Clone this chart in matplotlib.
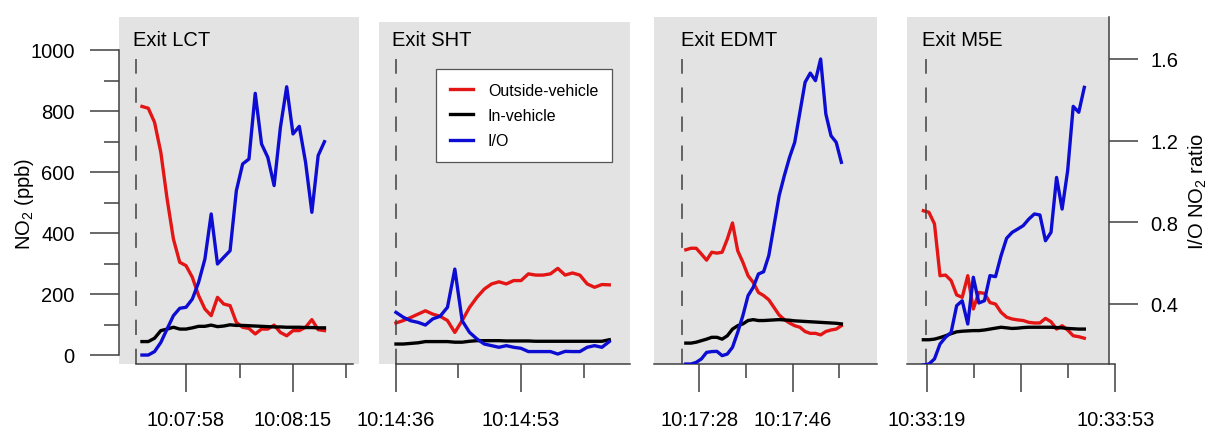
import numpy as np
import matplotlib
matplotlib.use("Agg")
import matplotlib.pyplot as plt
from matplotlib.lines import Line2D

plt.rcParams.update({
    "font.family": ["Liberation Sans", "DejaVu Sans"],
    "mathtext.fontset": "custom",
    "mathtext.rm": "Liberation Sans",
    "mathtext.it": "Liberation Sans:italic",
    "mathtext.bf": "Liberation Sans:bold",
})

# ==============================
# data (1 Hz samples, seconds relative to first labelled tick)
# ==============================

exit_names = ["Exit LCT", "Exit SHT", "Exit EDMT", "Exit M5E"]
t_start = [-7, 0, -2.6, -0.6]       # time of first sample
t_exit = [-8, 0, -3.3, -0.2]        # dashed line (vehicle exit)

lct_out = [815, 809, 763, 664, 511, 380, 304, 293, 255, 195, 151, 129, 189, 167, 162,
           107, 91, 87, 69, 85, 85, 98, 74, 63, 80, 80, 91, 116, 83, 80]
lct_in = [44, 44, 55, 80, 85, 91, 85, 85, 89, 94, 94, 98, 93, 95, 99,
          97, 97, 96, 95, 94, 93, 92, 92, 91, 91, 91, 90, 90, 89, 89]
lct_io = [0.150, 0.150, 0.167, 0.212, 0.278, 0.343, 0.379, 0.384, 0.424, 0.506,
          0.620, 0.841, 0.596, 0.629, 0.661, 0.955, 1.086, 1.110, 1.432, 1.184,
          1.118, 0.980, 1.265, 1.464, 1.233, 1.270, 1.094, 0.849, 1.127, 1.195]

sht_out = [105, 113, 123, 134, 145, 134, 127, 113, 74, 113, 156, 189, 216, 233, 240,
           233, 244, 244, 266, 262, 262, 266, 284, 262, 269, 262, 233, 222, 231, 230]
sht_in = [36, 36, 38, 40, 44, 44, 44, 44, 42, 42, 45, 47, 47, 47, 47,
          46, 46, 46, 46, 45, 45, 45, 45, 45, 45, 45, 45, 45, 45, 50]
sht_io = [0.359, 0.335, 0.318, 0.310, 0.297, 0.327, 0.340, 0.384, 0.571, 0.318,
          0.261, 0.229, 0.204, 0.196, 0.188, 0.196, 0.188, 0.183, 0.167, 0.167,
          0.167, 0.167, 0.155, 0.168, 0.167, 0.167, 0.188, 0.196, 0.188, 0.216]

edmt_out = [345, 350, 350, 331, 311, 337, 334, 337, 380, 433, 342, 304, 260, 238, 205,
            195, 181, 156, 131, 116, 105, 96, 91, 77, 71, 71, 66, 77, 82, 85, 96]
edmt_in = [39, 39, 42, 47, 52, 58, 58, 52, 63, 85, 96, 102, 113, 116, 113,
           113, 114, 115, 116, 115, 114, 112, 111, 110, 109, 108, 107, 106, 105, 104, 102]
edmt_io = [0.106, 0.106, 0.114, 0.131, 0.163, 0.167, 0.168, 0.147, 0.155, 0.188,
           0.261, 0.343, 0.441, 0.482, 0.547, 0.558, 0.637, 0.784, 0.931, 1.029,
           1.118, 1.192, 1.339, 1.486, 1.531, 1.494, 1.600, 1.331, 1.224, 1.192, 1.094]

m5e_out = [473, 468, 430, 260, 262, 244, 197, 189, 260, 151, 205, 202, 172, 167, 140,
           124, 118, 115, 113, 107, 105, 105, 120, 109, 85, 96, 82, 63, 60, 55]
m5e_in = [50, 50, 52, 57, 63, 70, 76, 78, 79, 80, 80, 82, 85, 88, 91,
          89, 87, 88, 90, 91, 91, 91, 91, 91, 90, 89, 87, 86, 85, 85]
m5e_io = [0.101, 0.106, 0.131, 0.204, 0.237, 0.261, 0.392, 0.416, 0.302, 0.531,
          0.405, 0.416, 0.539, 0.534, 0.637, 0.722, 0.751, 0.767, 0.784, 0.816,
          0.841, 0.836, 0.710, 0.751, 1.020, 0.865, 1.053, 1.368, 1.339, 1.461]

outside = [lct_out, sht_out, edmt_out, m5e_out]
inside = [lct_in, sht_in, edmt_in, m5e_in]
ratio = [lct_io, sht_io, edmt_io, m5e_io]

major_ticks = [[0, 17], [0, 17], [0, 18], [0, 17, 34]]
major_labels = [["10:07:58", "10:08:15"], ["10:14:36", "10:14:53"],
                ["10:17:28", "10:17:46"], ["10:33:19", "", "10:33:53"]]
minor_ticks = [[8.5, 25.5], [8.5, 25.5], [9, 27], [8.5, 25.5]]

# ==============================
# layout (pixels of a 1211x431 canvas)
# ==============================

W, H = 1211, 431
panel_left = [119, 379, 654, 907]
panel_width = [240, 251, 223, 209.5]
panel_top = [18, 23, 18, 18]
bottom_px = 365
xlims = [(-10.65, 27.49), (-2.31, 31.82), (-8.74, 34.27), (-3.55, 34.2)]
axis_bounds = [(-8, 26.5), (0, 31.82), (-8.74, 34.27), (-3.55, 34)]
title_x = [-8.47, -0.54, -3.53, -0.85]
grey_end_p4 = 32.85

# shared vertical scales: NO2 0 -> y=356 px, 1000 -> y=51 px ; ratio 0.4 -> 305 px, 1.6 -> 60 px
def no2_at(px):
    return (356 - px) / 0.305

def ratio_at(px):
    return 0.4 + (305 - px) / 204.17

C_OUT = "#e31515"
C_IN = "#000000"
C_IO = "#0c0cd2"
C_BG = "#e3e3e3"
C_AX = "#404040"
LW = 2.4
FS = 14.5

fig = plt.figure(figsize=(W / 100, H / 100), dpi=100)

for i in range(4):
    ax = fig.add_axes([panel_left[i] / W, (H - bottom_px) / H,
                       panel_width[i] / W, (bottom_px - panel_top[i]) / H])
    ax2 = ax.twinx()
    t = t_start[i] + np.arange(len(outside[i]))

    ax.plot(t, outside[i], color=C_OUT, lw=LW, solid_joinstyle="round")
    ax.plot(t, inside[i], color=C_IN, lw=LW, solid_joinstyle="round")
    ax2.plot(t, ratio[i], color=C_IO, lw=LW, solid_joinstyle="round")

    ax.plot([t_exit[i], t_exit[i]], [no2_at(bottom_px), no2_at(60)], color=C_AX,
            lw=1.1, dashes=(10, 9))

    ax.set_xlim(*xlims[i])
    ax.set_ylim(no2_at(bottom_px), no2_at(panel_top[i]))
    ax2.set_ylim(ratio_at(bottom_px), ratio_at(panel_top[i]))

    if i == 3:
        ax.set_facecolor("none")
        ax.axvspan(xlims[i][0], grey_end_p4, color=C_BG, zorder=0, lw=0)
    else:
        ax.set_facecolor(C_BG)

    for sp in ["top", "right", "left"]:
        ax.spines[sp].set_visible(False)
    for sp in ["top", "left", "bottom", "right"]:
        ax2.spines[sp].set_visible(False)
    ax.spines["bottom"].set_bounds(*axis_bounds[i])
    ax.spines["bottom"].set_color(C_AX)
    ax.spines["bottom"].set_linewidth(1.1)

    ax.set_xticks(major_ticks[i])
    ax.set_xticklabels(major_labels[i])
    ax.set_xticks(minor_ticks[i], minor=True)
    ax.tick_params(axis="x", which="major", length=20, width=1.1, color=C_AX,
                   pad=13, labelsize=FS)
    ax.tick_params(axis="x", which="minor", length=10, width=1.1, color=C_AX)

    if i == 0:
        ax.spines["left"].set_visible(True)
        ax.spines["left"].set_bounds(0, 1000)
        ax.spines["left"].set_color(C_AX)
        ax.spines["left"].set_linewidth(1.1)
        ax.set_yticks([0, 200, 400, 600, 800, 1000])
        ax.set_yticks([100, 300, 500, 700, 900], minor=True)
        ax.tick_params(axis="y", which="major", length=21, width=1.1, color=C_AX,
                       pad=11, labelsize=FS)
        ax.tick_params(axis="y", which="minor", length=11, width=1.1, color=C_AX)
    else:
        ax.set_yticks([])
        ax.set_yticks([], minor=True)

    if i == 3:
        ax2.spines["right"].set_visible(True)
        ax2.spines["right"].set_position(("data", grey_end_p4))
        ax2.spines["right"].set_color(C_AX)
        ax2.spines["right"].set_linewidth(1.1)
        ax2.set_yticks([0.4, 0.8, 1.2, 1.6])
        ax2.set_yticklabels(["0.4", "0.8", "1.2", "1.6"])
        ax2.tick_params(axis="y", length=21, width=1.1, color=C_AX, pad=9,
                        labelsize=FS)
    else:
        ax2.set_yticks([])

    ax.text(title_x[i], no2_at(31), exit_names[i], ha="left", va="top", fontsize=FS)

    if i == 1:
        handles = [Line2D([], [], color=C_OUT, lw=LW),
                   Line2D([], [], color=C_IN, lw=LW),
                   Line2D([], [], color=C_IO, lw=LW)]
        leg = ax2.legend(handles, ["Outside-vehicle", "In-vehicle", "I/O"],
                         loc="upper left", bbox_to_anchor=(436 / W, 1 - 70 / H),
                         bbox_transform=fig.transFigure, borderaxespad=0,
                         fontsize=11.5, frameon=True, fancybox=False,
                         framealpha=1, edgecolor="#555555", handlelength=1.45,
                         handletextpad=0.95, borderpad=0.85, labelspacing=0.65)
        leg.get_frame().set_linewidth(0.9)

fig.text(24 / W, 1 - 203.5 / H, r"NO$_2$ (ppb)", rotation=90, ha="center",
         va="center", fontsize=14.5)
fig.text(1198 / W, 1 - 191 / H, r"I/O NO$_2$ ratio", rotation=90, ha="center",
         va="center", fontsize=14.5)

fig.savefig("out.png", dpi=100)
